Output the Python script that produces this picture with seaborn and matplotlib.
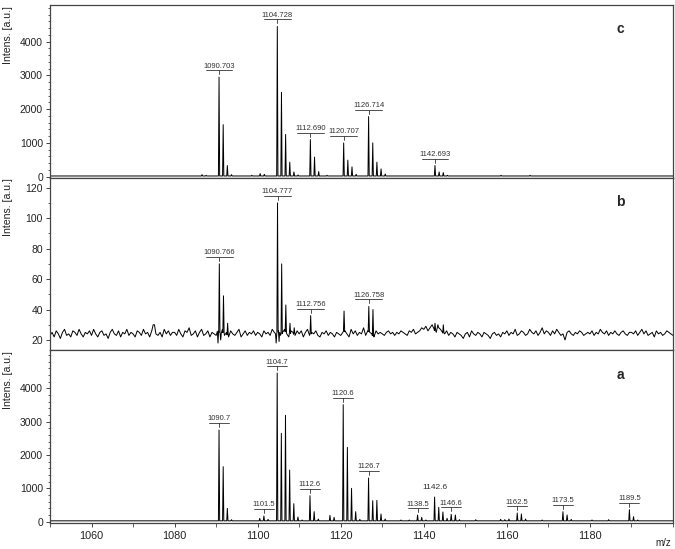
import numpy as np
import pandas as pd
import matplotlib
matplotlib.use('Agg')
import matplotlib.pyplot as plt
import seaborn as sns
from matplotlib.ticker import MultipleLocator

sns.set_style('ticks')
plt.rcParams['font.family'] = ['Liberation Sans', 'DejaVu Sans']

# ---- panel c ----
c_mz = [1086.6, 1087.6, 1090.70, 1091.70, 1092.70, 1093.70, 1098.6, 1100.6, 1101.6,
        1104.73, 1105.73, 1106.73, 1107.73, 1108.73, 1109.73, 1112.69, 1113.69, 1114.69,
        1116.7, 1120.71, 1121.71, 1122.71, 1123.71, 1126.71, 1127.71, 1128.71, 1129.71,
        1130.71, 1142.69, 1143.69, 1144.69, 1145.69, 1158.6, 1165.6]
c_int = [60, 40, 2950, 1540, 330, 60, 40, 90, 70,
         4450, 2500, 1250, 430, 140, 50, 1100, 580, 150,
         40, 1000, 490, 290, 70, 1780, 1000, 430, 230,
         80, 330, 140, 120, 40, 40, 40]
c_labels = ['1090.703', '1104.728', '1112.690', '1120.707', '1126.714', '1142.693']
c_base = 20

# ---- panel b ----
b_mz = [1075.0, 1090.45, 1090.77, 1091.10, 1091.77, 1092.77, 1104.45, 1104.78, 1105.15,
        1105.78, 1106.78, 1107.78, 1108.8, 1112.76, 1120.8, 1126.76, 1127.76, 1142.7,
        1143.4, 1144.7]
b_int = [30, 18, 70, 20, 49, 31, 18, 110, 19,
         70, 43, 31, 28, 36, 39, 42, 40, 31,
         30, 30]
b_labels = ['1090.766', '1104.777', '1112.756', '1126.758']
# baseline noise, every 0.5 m/z from 1050 to 1200
b_noise = [
    23, 25, 22, 26, 24, 21, 25, 27, 23, 24, 22, 26, 25, 23, 27, 24, 22, 25, 24, 26,
    23, 27, 24, 22, 25, 26, 23, 24, 21, 25, 27, 24, 23, 26, 22, 25, 24, 27, 23, 25,
    24, 22, 26, 25, 23, 27, 24, 25, 22, 26, 30, 24, 23, 25, 22, 27, 24, 26, 23, 25,
    25, 23, 27, 24, 22, 26, 25, 28, 23, 24, 26, 22, 25, 27, 23, 24, 26, 22, 25, 24,
    23, 26, 24, 27, 23, 25, 22, 26, 24, 23, 25, 27, 22, 24, 26, 23, 25, 24, 26, 23,
    25, 24, 22, 26, 24, 25, 23, 27, 25, 24, 26, 23, 25, 27, 24, 22, 26, 25, 23, 26,
    24, 26, 22, 25, 27, 23, 25, 24, 26, 23, 22, 25, 24, 26, 23, 25, 24, 22, 25, 24,
    23, 25, 26, 24, 22, 27, 24, 26, 23, 25, 24, 28, 23, 26, 25, 24, 22, 26, 24, 25,
    24, 23, 25, 26, 24, 25, 23, 25, 24, 26, 25, 24, 23, 26, 25, 27, 24, 25, 26, 28,
    27, 29, 26, 28, 30, 27, 25, 29, 27, 25, 24, 26, 23, 25, 24, 22, 25, 24, 23, 21,
    24, 25, 22, 26, 24, 23, 25, 24, 22, 25, 24, 23, 21, 24, 25, 23, 24, 22, 25, 24,
    26, 23, 25, 24, 27, 23, 24, 26, 25, 23, 24, 27, 25, 24, 26, 23, 25, 28, 24, 26,
    25, 23, 26, 24, 27, 25, 23, 24, 20, 25, 26, 24, 23, 25, 24, 26, 25, 23, 24, 25,
    24, 26, 23, 25, 24, 27, 25, 24, 26, 23, 25, 24, 26, 24, 23, 25, 26, 24, 23, 25,
    25, 24, 26, 23, 25, 27, 24, 26, 23, 24, 25, 22, 26, 24, 25, 23, 24, 26, 25, 24, 23]

# ---- panel a ----
a_mz = [1090.7, 1091.7, 1092.7, 1093.7, 1100.5, 1101.5, 1102.5, 1104.7, 1105.7, 1106.7,
        1107.7, 1108.7, 1109.7, 1110.7, 1112.6, 1113.6, 1114.6, 1117.4, 1118.4, 1120.6,
        1121.6, 1122.6, 1123.6, 1124.6, 1126.7, 1127.7, 1128.7, 1129.7, 1130.7, 1134.5,
        1136.5, 1138.5, 1139.5, 1140.5, 1142.6, 1143.6, 1144.6, 1145.6, 1146.6, 1147.6,
        1148.6, 1152.5, 1158.5, 1159.5, 1160.5, 1162.5, 1163.5, 1164.5, 1168.5, 1173.5,
        1174.5, 1175.5, 1180.5, 1184.5, 1189.5, 1190.5, 1191.5]
a_int = [2750, 1650, 400, 60, 100, 170, 70, 4460, 2650, 3190,
         1550, 540, 140, 50, 780, 300, 80, 190, 130, 3510,
         2230, 1000, 300, 70, 1310, 630, 640, 230, 80, 50,
         50, 200, 130, 50, 740, 430, 290, 100, 220, 200,
         60, 60, 70, 60, 80, 260, 230, 80, 50, 300,
         200, 70, 50, 60, 360, 150, 50]
a_labels = ['1090.7', '1101.5', '1104.7', '1112.6', '1120.6', '1126.7',
            '1138.5', '1142.6', '1146.6', '1162.5', '1173.5', '1189.5']
a_plain = ['1142.6']
a_base = 25

xmin, xmax = 1050, 1200
grid = np.arange(xmin, xmax + 0.25, 0.5)


def trace(base_y, pk_mz, pk_int, hw=0.15):
    by = np.asarray(base_y, float)
    keep = np.ones(len(grid), bool)
    for m in pk_mz:
        keep &= np.abs(grid - m) > hw
    xs = list(grid[keep])
    ys = list(by[keep])
    for m, h in zip(pk_mz, pk_int):
        b = np.interp(m, grid, by)
        xs += [m - hw, m, m + hw]
        ys += [b, h, b]
    return pd.DataFrame({'mz': xs, 'I': ys}).sort_values('mz')


W, H = 675, 549
fig = plt.figure(figsize=(W / 100, H / 100), dpi=100)
gs = fig.add_gridspec(3, 1, left=50 / W, right=673 / W, top=1 - 5 / H,
                      bottom=1 - 523 / H, hspace=0)
axes = [fig.add_subplot(gs[i]) for i in range(3)]

panels = [
    ('c', trace(np.full(len(grid), c_base), c_mz, c_int), c_mz, c_int, c_labels, [],
     (-30, 5085), 200, [0, 1000, 2000, 3000, 4000]),
    ('b', trace(b_noise, b_mz, b_int), b_mz, b_int, b_labels, [],
     (13.2, 126.6), 10, [20, 40, 60, 80, 100, 120]),
    ('a', trace(np.full(len(grid), a_base), a_mz, a_int), a_mz, a_int, a_labels, a_plain,
     (-40, 5140), 200, [0, 1000, 2000, 3000, 4000]),
]

edge = '#444444'
for ax, (tag, df, pmz, pint, labels, plain, ylim, mnr, yt) in zip(axes, panels):
    sns.lineplot(data=df, x='mz', y='I', ax=ax, color='black', lw=0.7,
                 estimator=None, sort=False)
    ax.set_xlim(xmin, xmax)
    ax.set_ylim(*ylim)
    ax.set_yticks(yt)
    ax.yaxis.set_minor_locator(MultipleLocator(mnr))
    ax.set_xlabel('')
    ax.set_ylabel('')
    for s in ax.spines.values():
        s.set_visible(True)
        s.set_color(edge)
        s.set_linewidth(0.9)
    ax.tick_params(axis='y', which='major', labelsize=7.5, length=3, width=0.7,
                   colors=edge, labelcolor='#222222', pad=2)
    ax.tick_params(axis='y', which='minor', length=1.5, width=0.6, colors=edge)
    ax.text(-0.067, 0.995, 'Intens. [a.u.]', rotation=90, ha='center', va='top',
            fontsize=7.6, color='#222222', transform=ax.transAxes)
    ax.text(0.915, 0.86, tag, ha='center', va='center', fontsize=10,
            fontweight='bold', transform=ax.transAxes)

    # peak labels
    pos = ax.get_position()
    ppx = pos.width * W / (xmax - xmin)
    dy = (ylim[1] - ylim[0]) / (pos.height * H)
    pm = np.asarray(pmz)
    pi = np.asarray(pint)
    for t in labels:
        m = float(t)
        h = pi[np.abs(pm - m) < 0.35].max()
        if t in plain:
            ax.text(m, h + 6 * dy, t, ha='center', va='bottom', fontsize=6,
                    color='#333333')
            continue
        hw = 1.67 * len(t) / ppx
        ax.plot([m, m], [h + 3 * dy, h + 7 * dy], color='#333333', lw=0.6)
        ax.plot([m - hw, m + hw], [h + 7 * dy, h + 7 * dy], color='#333333', lw=0.6)
        ax.text(m, h + 7.5 * dy, t, ha='center', va='bottom', fontsize=5.5,
                family=['Liberation Sans Narrow', 'Liberation Sans'], color='#333333')

for ax in axes[:2]:
    ax.tick_params(axis='x', which='both', bottom=False, labelbottom=False)

axa = axes[2]
axa.set_xticks([1060, 1080, 1100, 1120, 1140, 1160, 1180])
axa.xaxis.set_minor_locator(MultipleLocator(10))
axa.tick_params(axis='x', which='major', labelsize=7.8, length=3, width=0.7,
                colors=edge, labelcolor='#222222', pad=3)
axa.tick_params(axis='x', which='minor', length=3, width=0.6, colors=edge)
axa.text(0.985, -0.115, 'm/z', ha='center', va='center', fontsize=7,
         color='#222222', transform=axa.transAxes)

fig.savefig('out.png', dpi=100)
